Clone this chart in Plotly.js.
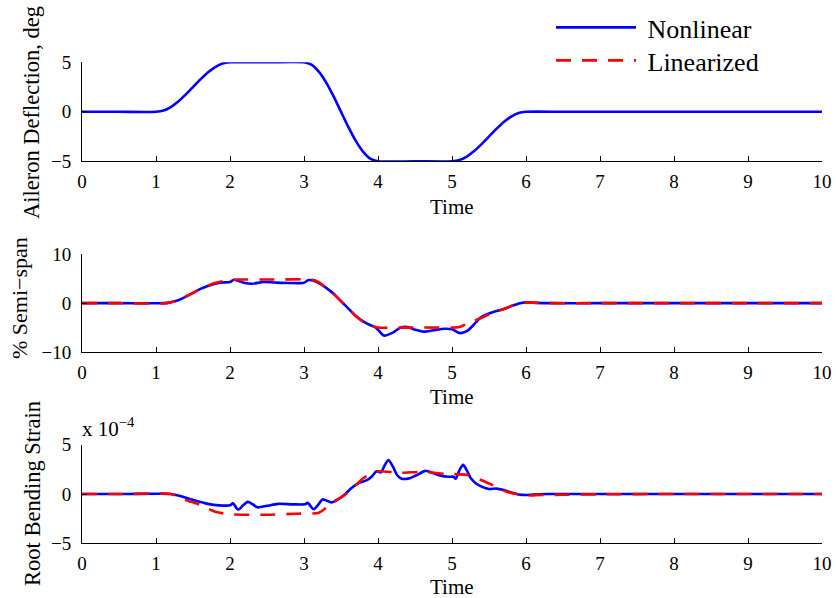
<!DOCTYPE html>
<html>
<head>
<meta charset="utf-8">
<script src="https://cdn.plot.ly/plotly-3.0.1.min.js"></script>
<style>
  html, body { margin: 0; padding: 0; background: #fff; }
  #chart { width: 836px; height: 598px; }
</style>
</head>
<body>
<div id="chart"></div>
<script>
// Aileron deflection command, deg
const aileronTime = [0, 0.5, 1.0, 1.1, 1.2, 1.3, 1.4, 1.5, 1.6, 1.7, 1.8, 1.9, 2.0,
  2.5, 3.0, 3.1, 3.2, 3.3, 3.4, 3.5, 3.6, 3.7, 3.8, 3.9, 4.0,
  4.5, 5.0, 5.1, 5.2, 5.3, 5.4, 5.5, 5.6, 5.7, 5.8, 5.9, 6.0, 6.5, 7, 8, 9, 10];
const aileronDeg = [0, 0, 0, 0.12, 0.48, 1.03, 1.73, 2.5, 3.27, 3.97, 4.52, 4.88, 5,
  5, 5, 4.76, 4.05, 2.94, 1.55, 0, -1.55, -2.94, -4.05, -4.76, -5,
  -5, -5, -4.88, -4.52, -3.97, -3.27, -2.5, -1.73, -1.03, -0.48, -0.12, 0, 0, 0, 0, 0, 0];

// Tip deflection, % semi-span
const spanTimeNL = [0, 0.5, 1.1, 1.2, 1.3, 1.4, 1.5, 1.6, 1.7, 1.8, 1.9, 2.0, 2.05, 2.1, 2.2, 2.3,
  2.45, 2.6, 2.8, 3.0, 3.06, 3.12, 3.2, 3.3, 3.4, 3.5, 3.6, 3.7, 3.8, 3.9, 3.95, 4.0, 4.08,
  4.2, 4.3, 4.38, 4.5, 4.62, 4.75, 4.9, 5.0, 5.11, 5.2, 5.3, 5.38, 5.5, 5.6, 5.7, 5.8,
  5.92, 6.02, 6.15, 6.3, 7, 8, 9, 10];
const spanNL = [0, 0, 0, 0.2, 0.6, 1.3, 2.1, 2.9, 3.5, 3.95, 4.2, 4.3, 4.75, 4.6, 4.1, 3.95,
  4.3, 4.2, 4.1, 4.15, 4.7, 4.6, 4.1, 3.1, 1.9, 0.4, -1.1, -2.6, -3.7, -4.5, -4.8, -5.4, -6.6,
  -6.0, -5.0, -4.8, -5.4, -5.8, -5.5, -5.2, -5.3, -6.1, -5.7, -4.3, -3.0, -2.1, -1.6, -1.2, -0.6,
  0.0, 0.15, 0.05, 0, 0, 0, 0, 0];
const spanTimeLin = [0, 0.5, 1.15, 1.3, 1.5, 1.7, 1.85, 2.0, 2.1, 2.6, 3.1, 3.2, 3.3, 3.4, 3.5, 3.6, 3.7,
  3.8, 3.9, 4.0, 4.1, 4.6, 5.1, 5.2, 5.3, 5.4, 5.5, 5.6, 5.7, 5.8, 5.9, 6.0, 6.1, 6.3, 7, 8, 9, 10];
const spanLin = [0, 0, 0, 0.6, 2.1, 3.6, 4.3, 4.7, 4.8, 4.8, 4.8, 4.3, 3.1, 1.9, 0.4, -1.1, -2.6,
  -3.8, -4.6, -4.95, -5.0, -4.95, -4.85, -4.2, -3.6, -3.0, -2.3, -1.7, -1.2, -0.6, -0.15, 0.1, 0.1, 0,
  0, 0, 0, 0];

// Root bending strain, units of 1e-4
const strainTimeNL = [0, 0.6, 1.2, 1.3, 1.5, 1.7, 1.85, 2.0, 2.04, 2.11, 2.17, 2.24, 2.3, 2.37, 2.5,
  2.65, 2.85, 3.01, 3.05, 3.13, 3.19, 3.25, 3.3, 3.37, 3.45, 3.55, 3.65, 3.75, 3.85, 3.92,
  3.98, 4.04, 4.09, 4.14, 4.2, 4.26, 4.32, 4.43, 4.52, 4.64, 4.75, 4.85, 4.95, 5.02, 5.05,
  5.1, 5.15, 5.2, 5.25, 5.32, 5.4, 5.5, 5.6, 5.7, 5.8, 5.9, 6.0, 6.1, 6.3, 7, 8, 9, 10];
const strainNL = [0, 0, 0, -0.15, -0.6, -1.0, -1.15, -1.15, -0.95, -1.6, -1.2, -0.8, -1.0, -1.35, -1.2,
  -1.0, -1.05, -1.05, -0.9, -1.55, -1.1, -0.55, -0.65, -0.85, -0.6, -0.05, 0.65, 1.15, 1.4, 1.8,
  2.3, 2.2, 2.9, 3.45, 2.8, 1.9, 1.55, 1.6, 1.9, 2.35, 2.1, 1.85, 1.75, 1.75, 1.55,
  2.4, 2.95, 2.4, 1.65, 1.1, 0.75, 0.5, 0.55, 0.4, 0.15, -0.05, -0.1, -0.05, 0, 0, 0, 0, 0];
const strainTimeLin = [0, 0.6, 1.2, 1.4, 1.6, 1.8, 2.0, 2.5, 2.9, 3.2, 3.3, 3.4, 3.55, 3.7, 3.8, 3.9,
  4.0, 4.3, 4.6, 4.9, 5.2, 5.4, 5.55, 5.75, 5.9, 6.05, 6.2, 6.5, 7.0, 8, 9, 10];
const strainLin = [0, 0, 0, -0.6, -1.1, -1.8, -2.05, -2.1, -2.0, -1.9, -1.4, -0.8, -0.1, 0.9, 1.6, 2.0,
  2.3, 2.15, 2.25, 2.05, 1.93, 1.4, 0.9, 0.2, -0.03, -0.15, -0.1, -0.08, -0.03, 0, 0, 0];

const xTicks = [0, 1, 2, 3, 4, 5, 6, 7, 8, 9, 10];
const legendNames = ['\u00a0Nonlinear', '\u00a0Linearized'];

const serif = 'Liberation Serif';
const blue = '#0000ff';
const red = '#ff0000';

function nl(x, y, xa, ya, show) {
  return { x: x, y: y, xaxis: xa, yaxis: ya, type: 'scatter', mode: 'lines',
    name: legendNames[0], showlegend: show, legend: 'legend',
    line: { color: blue, width: 2.6, shape: 'spline', smoothing: 0.7 } };
}
function lin(x, y, xa, ya, show) {
  return { x: x, y: y, xaxis: xa, yaxis: ya, type: 'scatter', mode: 'lines',
    name: legendNames[1], showlegend: show, legend: 'legend2',
    line: { color: red, width: 2.6, dash: '15px,11px', shape: 'spline', smoothing: 0.7 } };
}

const traces = [
  nl(aileronTime, aileronDeg, 'x', 'y', true),
  // empty entry so the linearized series appears in the key as well
  { x: [null], y: [null], xaxis: 'x', yaxis: 'y', type: 'scatter', mode: 'lines',
    name: legendNames[1], showlegend: true, legend: 'legend2',
    line: { color: red, width: 2.6, dash: '15px,11px' } },
  nl(spanTimeNL, spanNL, 'x2', 'y2', false),
  lin(spanTimeLin, spanLin, 'x2', 'y2', false),
  nl(strainTimeNL, strainNL, 'x3', 'y3', false),
  lin(strainTimeLin, strainLin, 'x3', 'y3', false)
];

const H = 598, L = 82, PW = 740;
const px = v => (v - L) / PW;
const py = v => 1 - v / H;

function xAxis(anchor) {
  return { anchor: anchor, domain: [0, 1], range: [0, 10], tickvals: xTicks,
    ticks: 'inside', ticklen: 5, tickcolor: '#000', showline: true, linecolor: '#000',
    linewidth: 1, showgrid: false, zeroline: false, ticklabelstandoff: 3,
    tickfont: { family: serif, size: 19, color: '#000' } };
}
function yAxis(anchor, dom, range, ticks) {
  return { anchor: anchor, domain: dom, range: range, tickvals: ticks,
    ticks: 'inside', ticklen: 5, tickcolor: '#000', showline: true, linecolor: '#000',
    linewidth: 1, showgrid: false, zeroline: false, ticklabelstandoff: 6,
    tickfont: { family: serif, size: 19, color: '#000' } };
}

function ann(text, x, y, angle, size, extra) {
  return Object.assign({ text: text, xref: 'paper', yref: 'paper', x: px(x), y: py(y),
    showarrow: false, textangle: angle, font: { family: serif, size: size, color: '#000' },
    xanchor: 'center', yanchor: 'middle' }, extra || {});
}

function legendBox(topPx) {
  return { x: px(551), y: py(topPx), xanchor: 'left', yanchor: 'top',
    bgcolor: 'rgba(0,0,0,0)', borderwidth: 0, itemwidth: 80,
    font: { family: serif, size: 26, color: '#000' } };
}

const layout = {
  width: 836, height: 598,
  margin: { l: L, r: 14, t: 0, b: 0 },
  paper_bgcolor: '#fff', plot_bgcolor: '#fff',
  showlegend: true,
  legend: legendBox(4),
  legend2: legendBox(37),
  xaxis: xAxis('y'),
  xaxis2: xAxis('y2'),
  xaxis3: xAxis('y3'),
  yaxis: yAxis('x', [py(161.3), py(62.3)], [-5, 5], [-5, 0, 5]),
  yaxis2: yAxis('x2', [py(352.3), py(254)], [-10, 10], [-10, 0, 10]),
  yaxis3: yAxis('x3', [py(543.3), py(444.7)], [-5, 5], [-5, 0, 5]),
  annotations: [
    ann('Aileron Deflection, deg', 32, 113, -90, 22.5),
    ann('% Semi\u2212span', 19, 298, -90, 22),
    ann('Root Bending Strain', 32, 494, -90, 22.5),
    ann('Time', 452, 207, 0, 21),
    ann('Time', 452, 397, 0, 21),
    ann('Time', 452, 587, 0, 21),
    ann('x 10<sup>\u22124</sup>', 80, 427, 0, 21, { xanchor: 'left' })
  ]
};

Plotly.newPlot('chart', traces, layout, { staticPlot: true, displayModeBar: false });
</script>
</body>
</html>
